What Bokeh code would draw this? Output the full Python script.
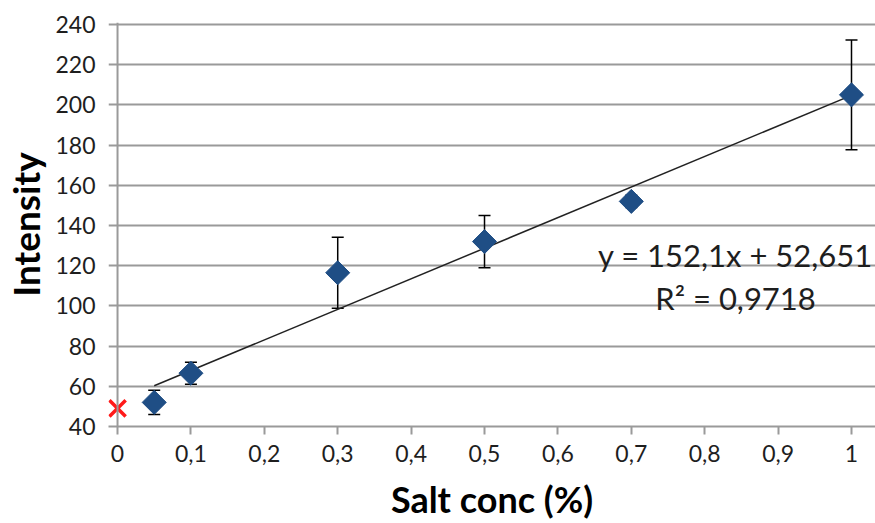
import math
from bokeh.plotting import figure
from bokeh.models import (Range1d, FixedTicker, CustomJSTickFormatter, Whisker,
                          TeeHead, ColumnDataSource, Span, Label)
from bokeh.embed import file_html
from bokeh.resources import INLINE

# ---- data ----
salt_conc = [0.05, 0.1, 0.3, 0.5, 0.7, 1.0]
intensity = [52, 66.5, 116.5, 132, 152, 205]
intensity_err = [6, 5.5, 17.7, 13, 3, 27.3]
blank_x = [0.0]
blank_y = [49]
fit_slope = 152.1
fit_intercept = 52.651
eq_text = "y = 152,1x + 52,651"
r2_text = "R\u00b2 = 0,9718"
x_ticks = [0, 0.1, 0.2, 0.3, 0.4, 0.5, 0.6, 0.7, 0.8, 0.9, 1]
y_ticks = [40, 60, 80, 100, 120, 140, 160, 180, 200, 220, 240]
x_title = "Salt conc (%)"
y_title = "Intensity"

FONT = "Lato"
GRID = "#9a9a9a"
TXT = "#1e1e1e"

src = ColumnDataSource(dict(
    x=salt_conc, y=intensity,
    lo=[v - e for v, e in zip(intensity, intensity_err)],
    hi=[v + e for v, e in zip(intensity, intensity_err)],
))

p = figure(width=875, height=523, output_backend="svg", toolbar_location=None,
           x_range=Range1d(-0.0123, 1.0327), y_range=Range1d(40, 241),
           min_border_left=108, min_border_right=0, min_border_top=22,
           min_border_bottom=96)
p.outline_line_color = None
p.background_fill_color = "white"
p.border_fill_color = "white"

# grid
p.xgrid.grid_line_color = None
p.ygrid.ticker = FixedTicker(ticks=y_ticks)
p.ygrid.grid_line_color = GRID
p.ygrid.grid_line_width = 2

# y axis (its line drawn as a span at x=0)
ya = p.yaxis[0]
ya.ticker = FixedTicker(ticks=y_ticks)
ya.axis_line_color = None
ya.major_tick_line_color = None
ya.major_tick_out = 0
ya.major_tick_in = 0
ya.minor_tick_line_color = None
ya.major_label_standoff = 13
ya.major_label_text_font = FONT
ya.major_label_text_font_size = "23px"
ya.major_label_text_color = TXT
ya.axis_label = y_title
ya.axis_label_text_font = FONT
ya.axis_label_text_font_size = "37px"
ya.axis_label_text_font_style = "bold"
ya.axis_label_text_color = "black"
ya.axis_label_standoff = 4

xa = p.xaxis[0]
xa.ticker = FixedTicker(ticks=x_ticks)
xa.formatter = CustomJSTickFormatter(code="""
    const s = (Math.round(tick*10)/10).toString();
    return s.replace('.', ',');
""")
xa.axis_line_color = GRID
xa.axis_line_width = 2
xa.major_tick_line_color = GRID
xa.major_tick_line_width = 2
xa.major_tick_out = 8
xa.major_tick_in = 0
xa.minor_tick_line_color = None
xa.major_label_standoff = 10
xa.major_label_text_font = FONT
xa.major_label_text_font_size = "23px"
xa.major_label_text_color = TXT
xa.axis_label = x_title
xa.axis_label_text_font = FONT
xa.axis_label_text_font_size = "36px"
xa.axis_label_text_font_style = "bold"
xa.axis_label_text_color = "black"
xa.axis_label_standoff = 12

p.add_layout(Span(location=0, dimension="height", line_color=GRID, line_width=2))

# error bars
w = Whisker(source=src, base="x", lower="lo", upper="hi", dimension="height",
            line_color="black", line_width=1.5, level="underlay",
            upper_head=TeeHead(size=12, line_color="black", line_width=1.5),
            lower_head=TeeHead(size=12, line_color="black", line_width=1.5))
p.add_layout(w)

# trend line
x0, x1 = min(salt_conc), max(salt_conc)
p.line([x0, x1], [fit_slope * x0 + fit_intercept, fit_slope * x1 + fit_intercept],
       line_color="#222222", line_width=1.5)

# data markers
p.scatter("x", "y", source=src, marker="square", size=17, angle=math.pi / 4,
          fill_color="#1f4e85", line_color="#1f4e85")

# blank
p.scatter(blank_x, blank_y, marker="x", size=23, line_color="#ff1a1a", line_width=3.5)

# equation
p.add_layout(Label(x=0.842, y=125.5, text=eq_text, text_align="center",
                   text_baseline="middle", text_font=FONT, text_font_size="31px",
                   text_color=TXT))
p.add_layout(Label(x=0.842, y=104, text=r2_text, text_align="center",
                   text_baseline="middle", text_font=FONT, text_font_size="31px",
                   text_color=TXT))

open("out.html", "w").write(file_html(p, INLINE))
